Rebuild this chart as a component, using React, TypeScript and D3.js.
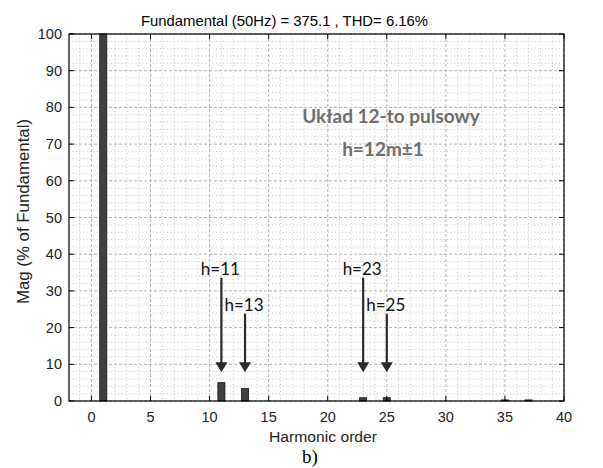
import React from "react";
import * as d3 from "d3";

// Harmonic spectrum, % of fundamental
const harmonicOrders = [1, 11, 13, 23, 25, 35, 37];
const harmonicMags = [100, 5.0, 3.4, 0.9, 0.9, 0.3, 0.3];

const xTicks = [0, 5, 10, 15, 20, 25, 30, 35, 40];
const yTicks = [0, 10, 20, 30, 40, 50, 60, 70, 80, 90, 100];

// Annotated harmonics: order, label, arrow start level (%)
const arrowOrders = [11, 13, 23, 25];
const arrowLabels = ["h=11", "h=13", "h=23", "h=25"];
const arrowStarts = [33.6, 23.8, 33.6, 23.8];
const arrowTip = 7.8;

const titleText = "Fundamental (50Hz) = 375.1 , THD= 6.16%";

export default function App() {
  const W = 603, H = 468;
  const L = 69, R = 564, T = 34, B = 401;
  const x = d3.scaleLinear().domain([-1.9, 40]).range([L, R]);
  const y = d3.scaleLinear().domain([0, 100]).range([B, T]);
  const barW = x(0.6) - x(0);

  const xMinor = d3.range(-1, 40, 1).filter((v) => v % 5 !== 0);
  const yMinor = d3.range(0, 100, 2).filter((v) => v % 10 !== 0);
  const sans = "'Liberation Sans', Arial, sans-serif";
  const anno = "Lato, 'Open Sans', sans-serif";

  return (
    <svg width={W} height={H} style={{ position: "absolute", left: 0, top: 0, background: "#fff" }}>
      <rect x={0} y={0} width={W} height={H} fill="#fff" />
      {/* minor grid */}
      {xMinor.map((v) => (
        <line key={"xm" + v} x1={x(v)} x2={x(v)} y1={T} y2={B} stroke="#c8c8c8" strokeWidth={1} strokeDasharray="1,2.5" />
      ))}
      {yMinor.map((v) => (
        <line key={"ym" + v} x1={L} x2={R} y1={y(v)} y2={y(v)} stroke="#c8c8c8" strokeWidth={1} strokeDasharray="1,2.5" />
      ))}
      {/* major grid */}
      {xTicks.map((v) => (
        <line key={"xg" + v} x1={x(v)} x2={x(v)} y1={T} y2={B} stroke="#b4b4b4" strokeWidth={1} strokeDasharray="3,2" />
      ))}
      {yTicks.map((v) => (
        <line key={"yg" + v} x1={L} x2={R} y1={y(v)} y2={y(v)} stroke="#b4b4b4" strokeWidth={1} strokeDasharray="3,2" />
      ))}
      {/* bars */}
      {harmonicOrders.map((h, i) => (
        <rect key={"b" + h} x={x(h) - barW / 2} y={y(harmonicMags[i])} width={barW}
          height={B - y(harmonicMags[i])} fill="#404040" stroke="#1a1a1a" strokeWidth={0.8} />
      ))}
      {/* axes box and ticks */}
      <rect x={L} y={T} width={R - L} height={B - T} fill="none" stroke="#000" strokeWidth={1.2} />
      {xTicks.map((v) => (
        <g key={"xt" + v}>
          <line x1={x(v)} x2={x(v)} y1={B} y2={B - 5} stroke="#000" />
          <line x1={x(v)} x2={x(v)} y1={T} y2={T + 5} stroke="#000" />
          <text x={x(v)} y={421.5} textAnchor="middle" fontFamily={sans} fontSize={14.5} fill="#222">{v}</text>
        </g>
      ))}
      {yTicks.map((v) => (
        <g key={"yt" + v}>
          <line x1={L} x2={L + 5} y1={y(v)} y2={y(v)} stroke="#000" />
          <line x1={R} x2={R - 5} y1={y(v)} y2={y(v)} stroke="#000" />
          <text x={62} y={y(v) + 5} textAnchor="end" fontFamily={sans} fontSize={14.5} fill="#222">{v}</text>
        </g>
      ))}
      <text x={284.5} y={26} textAnchor="middle" fontFamily={sans} fontSize={15} fill="#000"
        textLength={287} lengthAdjust="spacingAndGlyphs">{titleText}</text>
      <text x={323} y={441.5} textAnchor="middle" fontFamily={sans} fontSize={15.5} fill="#222"
        textLength={108} lengthAdjust="spacingAndGlyphs">Harmonic order</text>
      <text transform={`translate(28.5, 211.5) rotate(-90)`} textAnchor="middle" fontFamily={sans} fontSize={16} fill="#222"
        textLength={185} lengthAdjust="spacingAndGlyphs">
        Mag (% of Fundamental)
      </text>
      {/* annotations */}
      <text x={391} y={123} textAnchor="middle" fontFamily={anno} fontWeight="bold" fontSize={19} fill="#6e6e6e">Układ 12-to pulsowy</text>
      <text x={383} y={156} textAnchor="middle" fontFamily={anno} fontWeight="bold" fontSize={19} fill="#6e6e6e">h=12m±1</text>
      {arrowOrders.map((h, i) => {
        const ax = x(h);
        const y0 = y(arrowStarts[i]);
        const y1 = y(arrowTip);
        return (
          <g key={"a" + h}>
            <line x1={ax} x2={ax} y1={y0} y2={y1 - 9} stroke="#2a2a2a" strokeWidth={2.2} />
            <path d={`M${ax - 6},${y1 - 10} L${ax + 6},${y1 - 10} L${ax},${y1} Z`} fill="#2a2a2a" />
            <text x={ax - 1} y={y0 - 3} textAnchor="middle" fontFamily={anno} fontSize={17} fill="#111">{arrowLabels[i]}</text>
          </g>
        );
      })}
      <text x={310} y={463} textAnchor="middle" fontFamily="'Liberation Serif', 'Times New Roman', serif" fontSize={19} fill="#000">b)</text>
    </svg>
  );
}
